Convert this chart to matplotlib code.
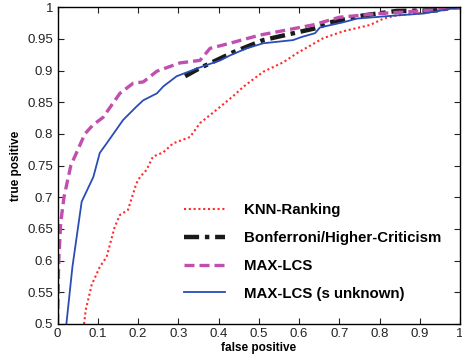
import numpy as np
import matplotlib
matplotlib.use("Agg")
import matplotlib.pyplot as plt

plt.rcParams["font.family"] = ["Liberation Sans", "DejaVu Sans"]

# ── Data ─────────────────────────────────────────────────────────────────────

knn_fp = [0.066, 0.070, 0.085, 0.105, 0.122, 0.142, 0.155, 0.175, 0.196, 0.205,
          0.221, 0.237, 0.263, 0.287, 0.329, 0.354, 0.395, 0.437, 0.461, 0.511,
          0.561, 0.594, 0.660, 0.710, 0.777, 0.810, 0.843, 0.925, 1.0]
knn_tp = [0.500, 0.522, 0.562, 0.590, 0.606, 0.653, 0.672, 0.680, 0.722, 0.732,
          0.743, 0.764, 0.771, 0.785, 0.795, 0.817, 0.838, 0.860, 0.874, 0.898,
          0.913, 0.927, 0.951, 0.962, 0.972, 0.982, 0.987, 0.992, 1.0]

bonf_fp = [0.317, 0.354, 0.404, 0.437, 0.511, 0.594, 0.643, 0.677, 0.760,
           0.843, 0.943, 0.985, 1.0]
bonf_tp = [0.891, 0.904, 0.919, 0.929, 0.948, 0.960, 0.967, 0.976, 0.987,
           0.994, 0.995, 1.0, 1.0]

lcs_fp = [0.0, 0.003, 0.008, 0.016, 0.033, 0.068, 0.088, 0.113, 0.155, 0.188,
          0.213, 0.247, 0.304, 0.354, 0.379, 0.428, 0.503, 0.553, 0.635, 0.700,
          0.800, 0.926, 1.0]
lcs_tp = [0.500, 0.600, 0.660, 0.700, 0.750, 0.800, 0.814, 0.826, 0.864, 0.880,
          0.882, 0.899, 0.912, 0.916, 0.935, 0.943, 0.956, 0.962, 0.972, 0.984,
          0.990, 0.995, 0.999]

unk_fp = [0.022, 0.037, 0.060, 0.089, 0.105, 0.122, 0.163, 0.196, 0.213, 0.247,
          0.263, 0.296, 0.354, 0.404, 0.429, 0.470, 0.511, 0.585, 0.607, 0.640,
          0.652, 0.709, 0.744, 0.843, 0.910, 1.0]
unk_tp = [0.500, 0.590, 0.693, 0.732, 0.770, 0.785, 0.822, 0.843, 0.853, 0.864,
          0.875, 0.891, 0.905, 0.916, 0.924, 0.935, 0.943, 0.948, 0.953, 0.959,
          0.968, 0.976, 0.982, 0.987, 0.990, 1.0]

x_ticks = [0, 0.1, 0.2, 0.3, 0.4, 0.5, 0.6, 0.7, 0.8, 0.9, 1]
y_ticks = [0.5, 0.55, 0.6, 0.65, 0.7, 0.75, 0.8, 0.85, 0.9, 0.95, 1]

# ── Figure ───────────────────────────────────────────────────────────────────

fig = plt.figure(figsize=(4.62, 3.58), dpi=100)
ax = fig.add_axes([0.1245, 0.095, 0.8712, 0.885])

ax.plot(knn_fp, knn_tp, color="#ff2a2a", linestyle=(0, (1, 1.3)),
        linewidth=1.5, label="KNN-Ranking")
ax.plot(bonf_fp, bonf_tp, color="#1a1a1a", linestyle=(0, (3.4, 1.3, 1, 1.3)),
        linewidth=3.2, label="Bonferroni/Higher-Criticism")
ax.plot(lcs_fp, lcs_tp, color="#c04fb0", linestyle=(0, (3, 1.5)),
        linewidth=2.4, label="MAX-LCS")
ax.plot(unk_fp, unk_tp, color="#2a4db5", linewidth=1.3,
        label="MAX-LCS (s unknown)")

ax.set_xlim(0, 1)
ax.set_ylim(0.5, 1)
ax.set_xticks(x_ticks)
ax.set_xticklabels([f"{t:g}" for t in x_ticks])
ax.set_yticks(y_ticks)
ax.set_yticklabels([f"{t:g}" for t in y_ticks])
ax.tick_params(direction="in", top=True, right=True, labelsize=9.5,
               colors="#222222", length=4, pad=3)
for s in ax.spines.values():
    s.set_linewidth(1.0)

ax.set_xlabel("false positive", fontsize=8.5, fontweight="bold", labelpad=1)
ax.set_ylabel("true positive", fontsize=8.5, fontweight="bold", labelpad=4)

leg = ax.legend(loc="lower left", bbox_to_anchor=(0.30, 0.055), frameon=False,
                prop={"weight": "bold", "size": 10.8}, handlelength=2.7,
                labelspacing=0.92, handletextpad=1.3, borderaxespad=0)

fig.savefig("out.png", dpi=100)
